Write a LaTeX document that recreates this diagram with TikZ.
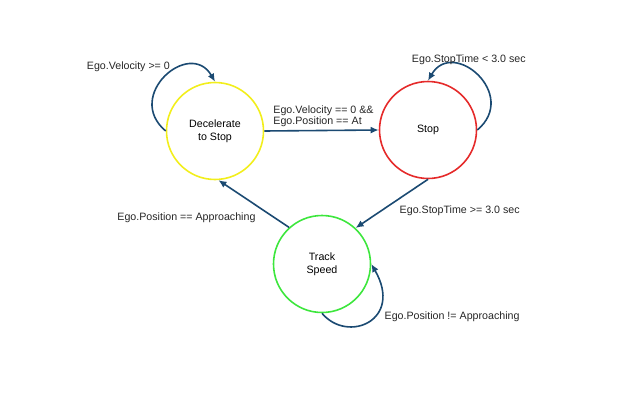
\documentclass[tikz,border=0pt]{standalone}
\usepackage{fontspec}
\setmainfont{Liberation Sans}
\usetikzlibrary{arrows.meta,positioning}
\definecolor{cdec}{HTML}{F2EE1C}
\definecolor{cstop}{HTML}{E52A2A}
\definecolor{ctrack}{HTML}{3DE63D}
\definecolor{cflow}{HTML}{1B4A72}
\tikzset{
  state/.style={circle, draw, line width=1.6bp, minimum size=97bp, inner sep=0pt,
                align=center, font=\fontsize{10.7}{12.8}\selectfont},
  lbl/.style={font=\fontsize{10.7}{12}\selectfont, inner sep=1.5bp, text=black!85},
  flow/.style={-{Latex[length=8bp,width=7bp]}, line width=1.6bp, draw=cflow},
}

\begin{document}
\begin{tikzpicture}[x=1bp, y=1bp]
  \useasboundingbox (0,0) rectangle (640,400);
  % states
  \node[state, draw=cdec] (dec) at (215,269) {Decelerate\\to Stop};
  \node[state, draw=cstop] (stop) at (428,270) {Stop};
  \node[state, draw=ctrack] (trk) at (322,136) {Track\\Speed};
  % transitions
  \draw[flow] (dec.east) -- node[lbl, above, align=left, xshift=2bp, yshift=1bp] {Ego.Velocity == 0 \&\&\\Ego.Position == At} (stop.west);
  \draw[flow] (stop.south) -- node[lbl, below right, pos=0.45, xshift=2bp, yshift=-2bp] {Ego.StopTime >= 3.0 sec} (trk.47);
  \draw[flow] (trk.132) -- node[lbl, below left, pos=0.4, xshift=-3bp, yshift=-2bp] {Ego.Position == Approaching} (dec.274);
  % self loops
  \draw[flow] (dec.west) .. controls +(140:55) and +(120:50) .. node[lbl, pos=0.5, anchor=south east, xshift=7bp, yshift=3bp] {Ego.Velocity >= 0} (dec.north);
  \draw[flow] (stop.east) .. controls +(40:55) and +(60:50) .. node[lbl, pos=0.5, anchor=south, xshift=-9bp, yshift=9bp] {Ego.StopTime < 3.0 sec} (stop.north);
  \draw[flow] (trk.south) .. controls +(-50:40) and +(-60:65) .. node[lbl, pos=0.6, anchor=west, xshift=7bp, yshift=-2bp] {Ego.Position != Approaching} (trk.east);
\end{tikzpicture}
\end{document}
